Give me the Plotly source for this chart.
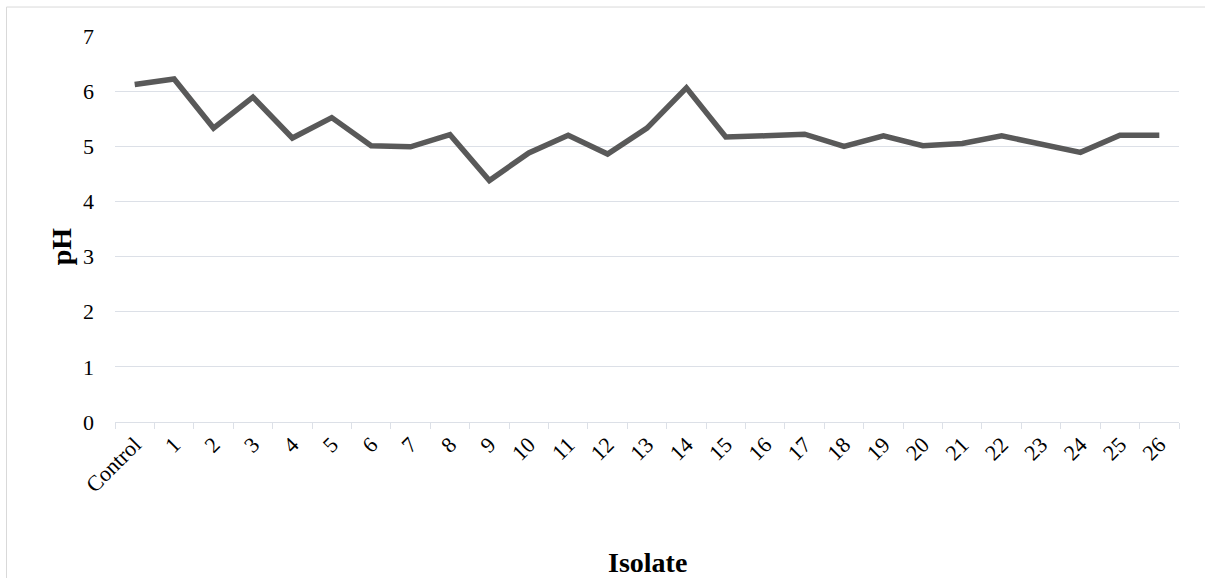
import plotly.graph_objects as go

categories = ["Control"] + [str(i) for i in range(1, 27)]
ph_values = [6.12, 6.22, 5.33, 5.89, 5.15, 5.52, 5.01, 4.99, 5.21, 4.38,
             4.88, 5.20, 4.86, 5.33, 6.06, 5.17, 5.19, 5.22, 5.00, 5.19,
             5.01, 5.05, 5.19, 5.05, 4.89, 5.20, 5.20]
y_ticks = [0, 1, 2, 3, 4, 5, 6, 7]

W, H = 1205, 578
ML, MR, MT, MB = 115, 26, 35.5, 156
PW = W - ML - MR
PH = H - MT - MB

fig = go.Figure()
fig.add_trace(go.Scatter(
    x=categories, y=ph_values, mode="lines",
    line=dict(color="#595959", width=5.5),
    showlegend=False, hoverinfo="x+y",
))

font_family = "Liberation Serif, Times New Roman, serif"
grid_col = "#dce0e7"

fig.update_layout(
    width=W, height=H,
    margin=dict(l=ML, r=MR, t=MT, b=MB, autoexpand=False),
    paper_bgcolor="white", plot_bgcolor="white",
    font=dict(family=font_family, size=22, color="#000000"),
    xaxis=dict(
        type="category", range=[-0.5, 26.5],
        tickangle=-45, tickson="boundaries",
        ticks="outside", ticklen=6, tickcolor=grid_col, tickwidth=1,
        showline=True, linecolor=grid_col, linewidth=1,
        showgrid=False, zeroline=False,
        tickfont=dict(family=font_family, size=22, color="#000000"),
    ),
    yaxis=dict(
        range=[0, 7], tickvals=y_ticks, ticktext=[str(v) for v in y_ticks],
        showgrid=True, gridcolor=grid_col, gridwidth=1,
        zeroline=False, showline=False, ticks="",
        ticklabelstandoff=20,
        tickfont=dict(family=font_family, size=22, color="#000000"),
    ),
    annotations=[
        dict(text="<b>Isolate</b>", xref="paper", yref="paper",
             x=(647.5 - ML) / PW, y=-(563 - (MT + PH)) / PH,
             showarrow=False, xanchor="center", yanchor="middle",
             font=dict(family=font_family, size=28, color="#000000")),
        dict(text="<b>pH</b>", xref="paper", yref="paper",
             x=-(ML - 61) / PW, y=(MT + PH - 246) / PH,
             showarrow=False, xanchor="center", yanchor="middle", textangle=-90,
             font=dict(family=font_family, size=28, color="#000000")),
    ],
    shapes=[
        dict(type="rect", xref="paper", yref="paper",
             x0=-(ML - 6.5) / PW, x1=2.0,
             y0=-2.0, y1=1 + (MT - 6.5) / PH,
             line=dict(color="#d9d9d9", width=1), fillcolor="rgba(0,0,0,0)",
             layer="below"),
    ],
)

fig.write_html("out.html", config={"displayModeBar": False},
               post_script="document.body.style.margin='0';")
